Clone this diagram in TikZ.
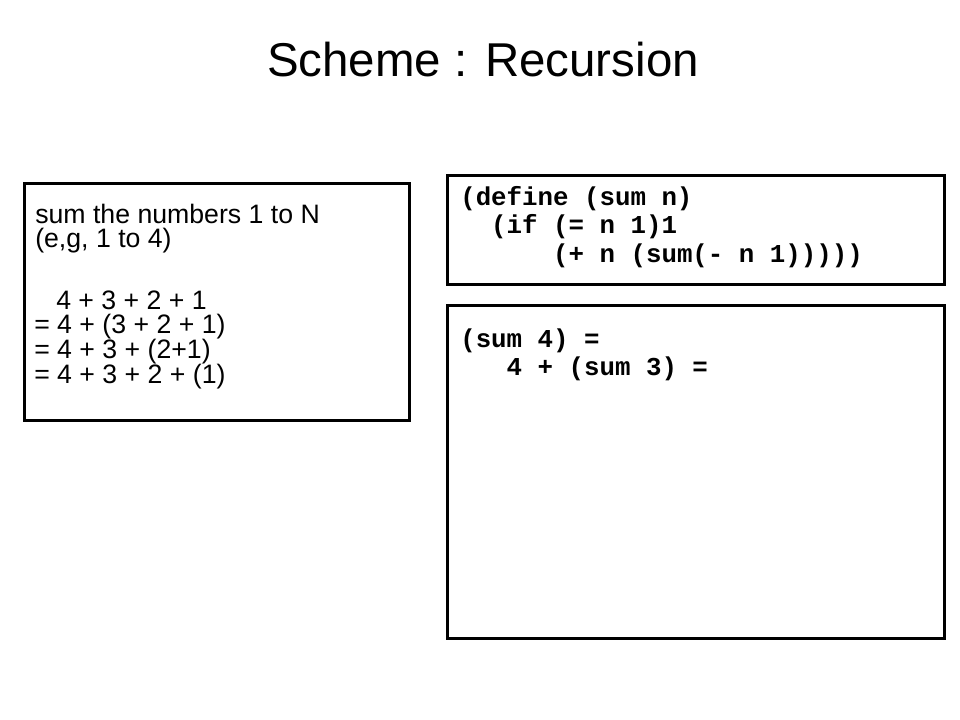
\documentclass[tikz,border=0pt]{standalone}
\usepackage{fontspec}
\setmainfont{Liberation Sans}
\setmonofont{Liberation Mono}
\begin{document}
\begin{tikzpicture}[x=0.75pt,y=-0.75pt,
  panel/.style={draw=black, line width=2.25pt},
  txt/.style={anchor=base west, inner sep=0pt, font=\fontsize{20}{17}\selectfont},
  code/.style={anchor=base west, inner sep=0pt, font=\fontsize{19.35}{20}\selectfont\ttfamily\bfseries},
]
\useasboundingbox[fill=white] (0,0) rectangle (960,720);
\node[anchor=base, inner sep=0pt, font=\fontsize{35.6}{40}\selectfont] (title) at (483,77) {Scheme : Recursion};
% panels
\draw[panel] (24,184) rectangle (409,420);
\draw[panel] (447,176) rectangle (944,285);
\draw[panel] (447,306) rectangle (944,638);
% left text
\node[txt] (l1) at (35,224) {sum the numbers 1 to N};
\node[txt] (l2) at (35,248) {(e,g, 1 to 4)};
\node[txt] (l3) at (56,310) {4 + 3 + 2 + 1};
\node[txt] (l4) at (34,334) {= 4 + (3 + 2 + 1)};
\node[txt] (l5) at (34,358.5) {= 4 + 3 + (2+1)};
\node[txt] (l6) at (34,383) {= 4 + 3 + 2 + (1)};
% code
\node[code] (c1) at (460,206) {(define (sum n)};
\node[code] (c2) at (460,234) {\ \ (if (= n 1)1};
\node[code] (c3) at (460,262.3) {\ \ \ \ \ \ (+ n (sum(- n 1)))))};
\node[code] (c4) at (460,347.3) {(sum 4) =};
\node[code] (c5) at (460,375.7) {\ \ \ 4 + (sum 3) =};
\end{tikzpicture}
\end{document}
